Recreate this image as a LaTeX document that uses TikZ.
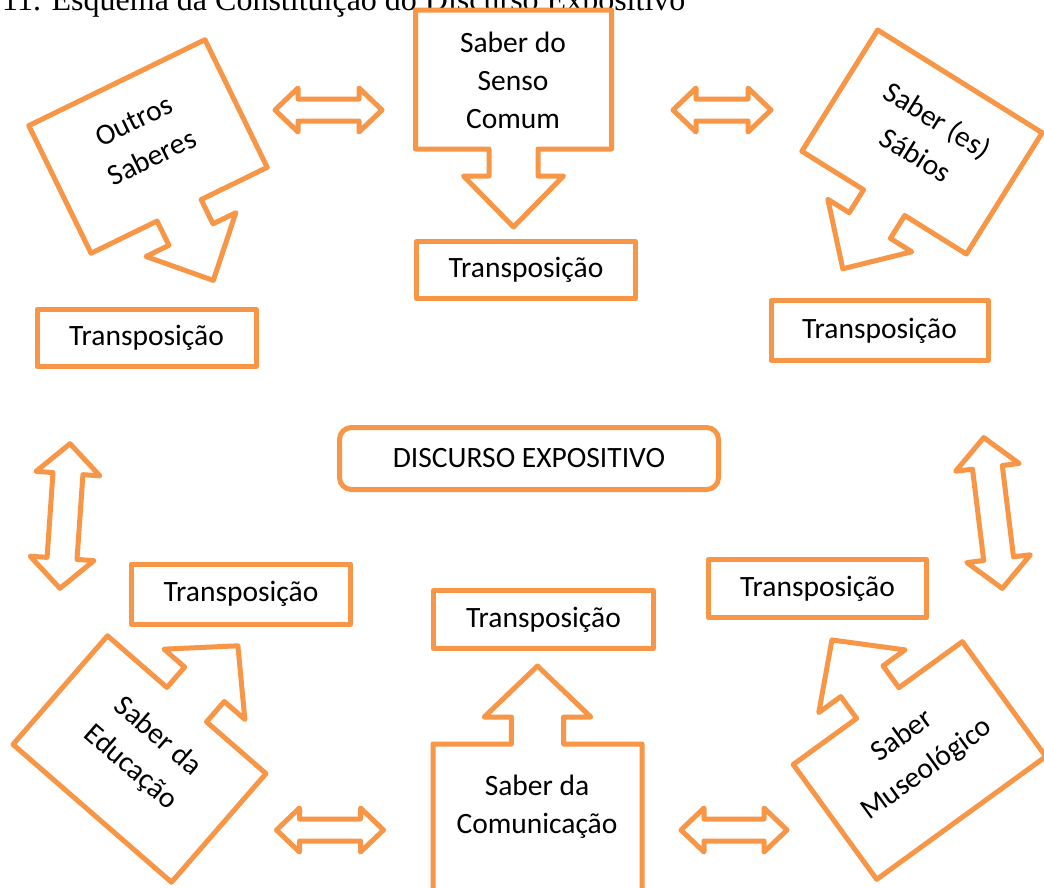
\documentclass[tikz,border=0pt]{standalone}
\usepackage{fontspec}
\setmainfont{Carlito}
\newfontfamily\titlefont{Liberation Serif}
\definecolor{acc}{HTML}{F79646}
\tikzset{
  co/.style={draw=acc, line width=5pt, line join=round, fill=white},
  tbox/.style={draw=acc, line width=5pt, line join=round, fill=white, rectangle, inner sep=0pt,
     font=\fontsize{29.5}{38}\selectfont, text=black},
  ctext/.style={font=\fontsize{29.5}{38}\selectfont, align=center, inner sep=0pt, text=black},
  rtext/.style={font=\fontsize{29.5}{41}\selectfont, align=center, inner sep=0pt, text=black},
}
% callout: cx, cy, rotation, width, height
\newcommand{\callout}[5]{%
  \draw[co, shift={(#1,#2)}, rotate=#3, yscale=-1]
    (-#4/2,#5/2) -- (#4/2,#5/2) -- (#4/2,-#5/2) -- (#4/8,-#5/2) -- (#4/8,-#5/2-27)
    -- (0.255*#4,-#5/2-27) -- (0,-#5/2-78) -- (-0.255*#4,-#5/2-27) -- (-#4/8,-#5/2-27)
    -- (-#4/8,-#5/2) -- (-#4/2,-#5/2) -- cycle;}
% double arrow: cx, cy, rotation, length, head width, shaft width, head length
\newcommand{\dblarrow}[7]{%
  \draw[co, shift={(#1,#2)}, rotate=#3, yscale=-1]
    (-#4/2,0) -- (-#4/2+#7,#5/2) -- (-#4/2+#7,#6/2) -- (#4/2-#7,#6/2) -- (#4/2-#7,#5/2)
    -- (#4/2,0) -- (#4/2-#7,-#5/2) -- (#4/2-#7,-#6/2) -- (-#4/2+#7,-#6/2) -- (-#4/2+#7,-#5/2) -- cycle;}
\begin{document}
\begin{tikzpicture}[x=1pt, y=-1pt]
\useasboundingbox (0,0) rectangle (1044,887);
\clip (0,0) rectangle (1044,887);
\fill[white] (0,0) rectangle (1044,887);

% title
\node[anchor=base west, inner sep=0pt, font=\titlefont\fontsize{32}{38}\selectfont] (title) at (2,10)
  {11. Esquema da Constitui\c{c}\~ao do Discurso Expositivo};

% callouts
\callout{513.5}{79.5}{0}{196}{139}
\node[ctext] (senso) at (513,80.5) {Saber do\\Senso\\Comum};

\callout{148}{146.5}{26}{196}{142}
\node[rtext, rotate=26] (outros) at (143,139) {Outros\\Saberes};

\callout{922}{142}{-32}{194}{143}
\node[rtext, rotate=-32] (sabios) at (927,137) {Saber (es)\\Sábios};

\callout{139.5}{759}{139}{210}{144}
\node[rtext, rotate=-41] (educ) at (144,752) {Saber da\\Educação};

\callout{537.5}{819}{180}{209}{150}
\node[ctext] (comun) at (537,807) {Saber da\\Comunicação};

\callout{919.5}{760.5}{-144}{209}{142}
\node[rtext, rotate=36] (museo) at (915,753) {Saber\\Museológico};

% transposition boxes
\node[tbox, minimum width=219pt, minimum height=57pt] (t1) at (146.5,338) {Transposição};
\node[tbox, minimum width=219pt, minimum height=57pt] (t2) at (526,270) {Transposição};
\node[tbox, minimum width=217pt, minimum height=60pt] (t3) at (879.5,330.5) {Transposição};
\node[tbox, minimum width=219pt, minimum height=60pt] (t4) at (241,594) {Transposição};
\node[tbox, minimum width=220pt, minimum height=58pt] (t5) at (543.5,619.5) {Transposição};
\node[tbox, minimum width=218pt, minimum height=58pt] (t6) at (817.5,588.5) {Transposição};

% central node
\node[tbox, rounded corners=12pt, minimum width=379pt, minimum height=62pt] (disc) at (529,458.5) {DISCURSO EXPOSITIVO};

% double arrows
\dblarrow{328.5}{110}{0}{107}{44}{22}{23}
\dblarrow{722}{110}{0}{98}{44}{22}{23}
\dblarrow{330}{830}{0}{107}{44}{22}{23}
\dblarrow{734}{830}{0}{106}{44}{22}{23}
\dblarrow{65}{516}{86}{145}{64}{30}{30}
\dblarrow{993}{513}{97}{152}{64}{30}{30}
\end{tikzpicture}
\end{document}
